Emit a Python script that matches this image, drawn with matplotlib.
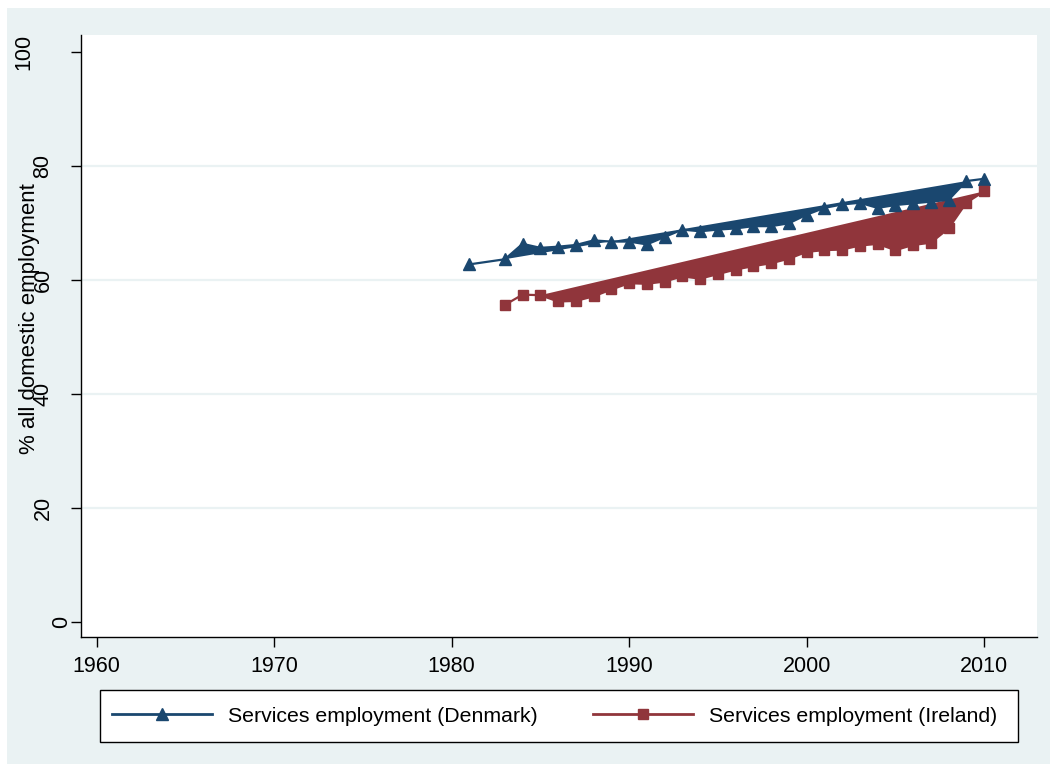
import matplotlib.pyplot as plt
from matplotlib.patches import Rectangle
from matplotlib.lines import Line2D
from matplotlib.transforms import blended_transform_factory

plt.rcParams['font.family'] = ['Liberation Sans', 'DejaVu Sans']

# services employment, % of all domestic employment
dk_years = [1981, 1983, 1984, 1985, 1986, 1987, 1988, 1989, 1990, 1991, 1992,
            1993, 1994, 1995, 1996, 1997, 1998, 1999, 2000, 2001, 2002, 2003,
            2004, 2005, 2006, 2007, 2008, 2009, 2010]
dk_share = [62.7, 63.6, 66.3, 65.6, 65.8, 66.1, 66.9, 66.7, 66.7, 66.2, 67.5,
            68.8, 68.5, 68.8, 69.0, 69.4, 69.4, 69.9, 71.4, 72.6, 73.2, 73.5,
            72.6, 73.1, 73.4, 73.7, 74.0, 77.3, 77.7]

ie_years = [1983, 1984, 1985, 1986, 1987, 1988, 1989, 1990, 1991, 1992, 1993,
            1994, 1995, 1996, 1997, 1998, 1999, 2000, 2001, 2002, 2003, 2004,
            2005, 2006, 2007, 2008, 2009, 2010]
ie_share = [55.6, 57.4, 57.3, 56.2, 56.3, 57.1, 58.3, 59.4, 59.3, 59.7, 60.6,
            60.2, 61.0, 61.8, 62.4, 62.9, 63.7, 64.9, 65.2, 65.3, 66.0, 66.3,
            65.2, 66.1, 66.5, 69.0, 73.5, 75.5]

x_ticks = [1960, 1970, 1980, 1990, 2000, 2010]
y_ticks = [0, 20, 40, 60, 80, 100]

navy = '#1a476f'
maroon = '#90353b'
bg = '#eaf2f3'
fs = 15.5

W, H = 1057, 771
fig = plt.figure(figsize=(W / 100, H / 100), dpi=100, facecolor='white')
fig.patches.append(Rectangle((7 / W, 7 / H), (1050 - 7) / W, (764 - 8) / H,
                             transform=fig.transFigure, facecolor=bg,
                             edgecolor='none', zorder=-1))

ax = fig.add_axes([80.8 / W, (H - 637) / H, (1036.6 - 80.8) / W, (637 - 35) / H])
ax.set_facecolor('white')
ax.set_xlim(1959.11, 2012.96)
ax.set_ylim(-2.6, 102.9)

for v in y_ticks[1:-1]:
    ax.axhline(v, color=bg, lw=1.6, zorder=0)

# the messy connection order in the source leaves a solid band between
# the first and last point of each run
ax.fill(dk_years[1:-1], dk_share[1:-1], color=navy, lw=0, zorder=2)
ax.fill(ie_years[2:], ie_share[2:], color=maroon, lw=0, zorder=2)

ax.plot(dk_years, dk_share, color=navy, lw=1.6, marker='^', ms=9, zorder=3)
ax.plot(ie_years, ie_share, color=maroon, lw=1.6, marker='s', ms=7, zorder=3)

for s in ['top', 'right']:
    ax.spines[s].set_visible(False)
for s in ['left', 'bottom']:
    ax.spines[s].set_linewidth(1.0)

ax.set_xticks(x_ticks)
ax.set_xticklabels([str(t) for t in x_ticks], fontsize=fs)
ax.set_yticks(y_ticks)
ax.set_yticklabels([])
ax.tick_params(axis='both', direction='out', length=7, width=1, color='black')
ax.tick_params(axis='x', pad=7)

# rotated y labels, staggered like the original
ytrans = blended_transform_factory(fig.transFigure, ax.transData)
for t in y_ticks:
    lab = str(t)
    xc = 43 - (len(lab) - 2) * 19
    ax.text(xc / W, t, lab, transform=ytrans, rotation=90,
            ha='center', va='center', fontsize=fs)

fig.text(30 / W, (H - 319) / H, '% all domestic employment', rotation=90,
         ha='center', va='center', fontsize=16)

# legend box
fig.patches.append(Rectangle((100 / W, (H - 742) / H), 918 / W, 52 / H,
                             transform=fig.transFigure, facecolor='white',
                             edgecolor='black', lw=1.0, zorder=1))
handles = [Line2D([], [], color=navy, lw=2, marker='^', ms=8),
           Line2D([], [], color=maroon, lw=2, marker='s', ms=7)]
lfs = 15.3
px = lfs * 100 / 72
fig.legend(handles, ['Services employment (Denmark)', 'Services employment (Ireland)'],
           loc='center left', bbox_to_anchor=(112 / W, (H - 716) / H),
           ncol=2, frameon=False, handlelength=100 / px, handletextpad=16 / px,
           columnspacing=55 / px, borderaxespad=0, borderpad=0, fontsize=lfs)

fig.savefig('out.png', dpi=100, facecolor=fig.get_facecolor())
